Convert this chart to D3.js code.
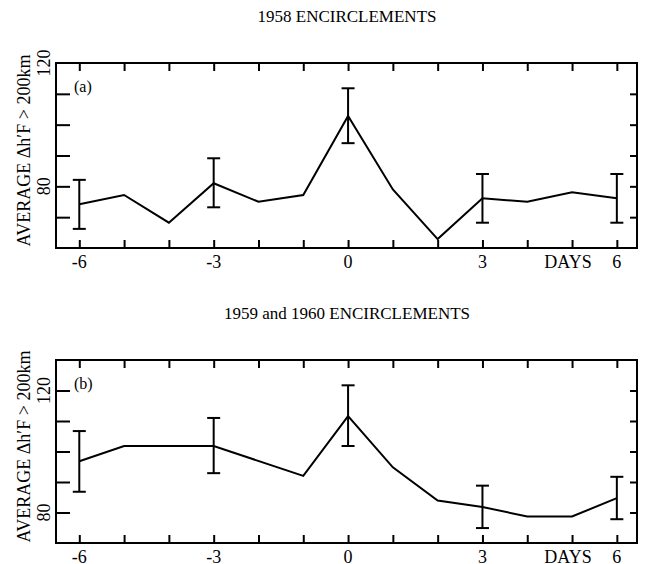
<!DOCTYPE html>
<html>
<head>
<meta charset="utf-8">
<script src="https://cdn.jsdelivr.net/npm/d3@7"></script>
<style>
  body { margin: 0; background: #fff; }
  svg { display: block; }
</style>
</head>
<body>
<svg id="chart" width="646" height="564"></svg>
<script>
// data
const days = [-6, -5, -4, -3, -2, -1, 0, 1, 2, 3, 4, 5, 6];
const dayTicks = [-6, -3, 0, 3, 6];

// (a) 1958
const valuesA = [74.2, 77.2, 68.2, 81.0, 75.0, 77.2, 102.8, 79.0, 62.9, 76.1, 75.0, 78.1, 76.1];
const errDaysA = [-6, -3, 0, 3, 6];
const errHiA = [82.1, 89.1, 111.8, 84.0, 84.0];
const errLoA = [66.2, 73.2, 94.0, 68.2, 68.2];

// (b) 1959 and 1960
const valuesB = [96.8, 101.8, null, 101.8, null, 92.0, 111.6, 94.8, 83.9, 81.8, 78.7, 78.7, 84.7];
const errDaysB = [-6, -3, 0, 3, 6];
const errHiB = [106.7, 111.0, 121.7, 88.8, 91.7];
const errLoB = [86.8, 92.9, 101.8, 74.9, 77.8];

const panels = [
  { title: "1958 ENCIRCLEMENTS", tag: "(a)", titleY: 22, top: 63, bottom: 248,
    yDomain: [60, 120], yTicks: [70, 80, 90, 100, 110], yLabels: [80, 120],
    values: valuesA, errDays: errDaysA, errHi: errHiA, errLo: errLoA },
  { title: "1959 and 1960 ENCIRCLEMENTS", tag: "(b)", titleY: 319, top: 360, bottom: 543,
    yDomain: [70, 130], yTicks: [80, 90, 100, 110, 120], yLabels: [80, 120],
    values: valuesB, errDays: errDaysB, errHi: errHiB, errLo: errLoB }
];

const svg = d3.select("#chart");
const left = 56, right = 637;
const serif = '"Liberation Serif", serif';

const x = d3.scaleLinear().domain([-6.52, 6.45]).range([left, right]);

function label(g, size) {
  return g.append("text")
    .attr("font-family", serif)
    .attr("font-size", size)
    .attr("fill", "#000");
}

panels.forEach(p => {
  const y = d3.scaleLinear().domain(p.yDomain).range([p.bottom, p.top]);
  const g = svg.append("g");

  label(g, 17)
    .attr("x", 347).attr("y", p.titleY)
    .attr("text-anchor", "middle")
    .text(p.title);

  // inward ticks on all four sides
  const bottomAxis = d3.axisBottom(x).tickValues(days).tickSize(-8).tickFormat("");
  const topAxis = d3.axisTop(x).tickValues(days).tickSize(-8).tickFormat("");
  const leftAxis = d3.axisLeft(y).tickValues(p.yTicks).tickSize(-14).tickFormat("");
  const rightAxis = d3.axisRight(y).tickValues(p.yTicks).tickSize(-7).tickFormat("");

  [[bottomAxis, `translate(0,${p.bottom})`], [topAxis, `translate(0,${p.top})`],
   [leftAxis, `translate(${left},0)`], [rightAxis, `translate(${right},0)`]].forEach(([ax, tr]) => {
    const a = g.append("g").attr("transform", tr).call(ax);
    a.select(".domain").remove();
    a.selectAll("line").attr("stroke", "#000").attr("stroke-width", 2);
  });

  g.append("rect")
    .attr("x", left).attr("y", p.top)
    .attr("width", right - left).attr("height", p.bottom - p.top)
    .attr("fill", "none").attr("stroke", "#000").attr("stroke-width", 2);

  // x labels
  dayTicks.forEach(d => {
    label(g, 18)
      .attr("x", x(d)).attr("y", p.bottom + 20)
      .attr("text-anchor", "middle")
      .text(d);
  });
  label(g, 18)
    .attr("x", 568).attr("y", p.bottom + 20)
    .attr("text-anchor", "middle")
    .text("DAYS");

  // rotated y labels
  p.yLabels.forEach(d => {
    label(g, 18)
      .attr("transform", `translate(50,${y(d)}) rotate(-90)`)
      .attr("text-anchor", "middle")
      .text(d);
  });
  label(g, 18)
    .attr("transform", `translate(30,${(p.top + p.bottom) / 2 - 5}) rotate(-90)`)
    .attr("text-anchor", "middle")
    .text("AVERAGE \u0394h\u2032F > 200km");

  label(g, 16)
    .attr("x", 74).attr("y", p.top + 29)
    .text(p.tag);

  // series line
  const line = d3.line()
    .x(d => x(d[0])).y(d => y(d[1]));
  const pts = days.map((d, i) => [d, p.values[i]]).filter(d => d[1] != null);
  g.append("path")
    .datum(pts)
    .attr("d", line)
    .attr("fill", "none").attr("stroke", "#000").attr("stroke-width", 2)
    .attr("stroke-linejoin", "miter");

  // error bars
  const eb = g.selectAll(".eb").data(p.errDays.map((d, i) => ({ d, hi: p.errHi[i], lo: p.errLo[i] })))
    .enter().append("g").attr("stroke", "#000").attr("stroke-width", 2);
  eb.append("line").attr("x1", e => x(e.d)).attr("x2", e => x(e.d))
    .attr("y1", e => y(e.hi)).attr("y2", e => y(e.lo));
  eb.append("line").attr("x1", e => x(e.d) - 6.5).attr("x2", e => x(e.d) + 6.5)
    .attr("y1", e => y(e.hi)).attr("y2", e => y(e.hi));
  eb.append("line").attr("x1", e => x(e.d) - 6.5).attr("x2", e => x(e.d) + 6.5)
    .attr("y1", e => y(e.lo)).attr("y2", e => y(e.lo));
});
</script>
</body>
</html>
